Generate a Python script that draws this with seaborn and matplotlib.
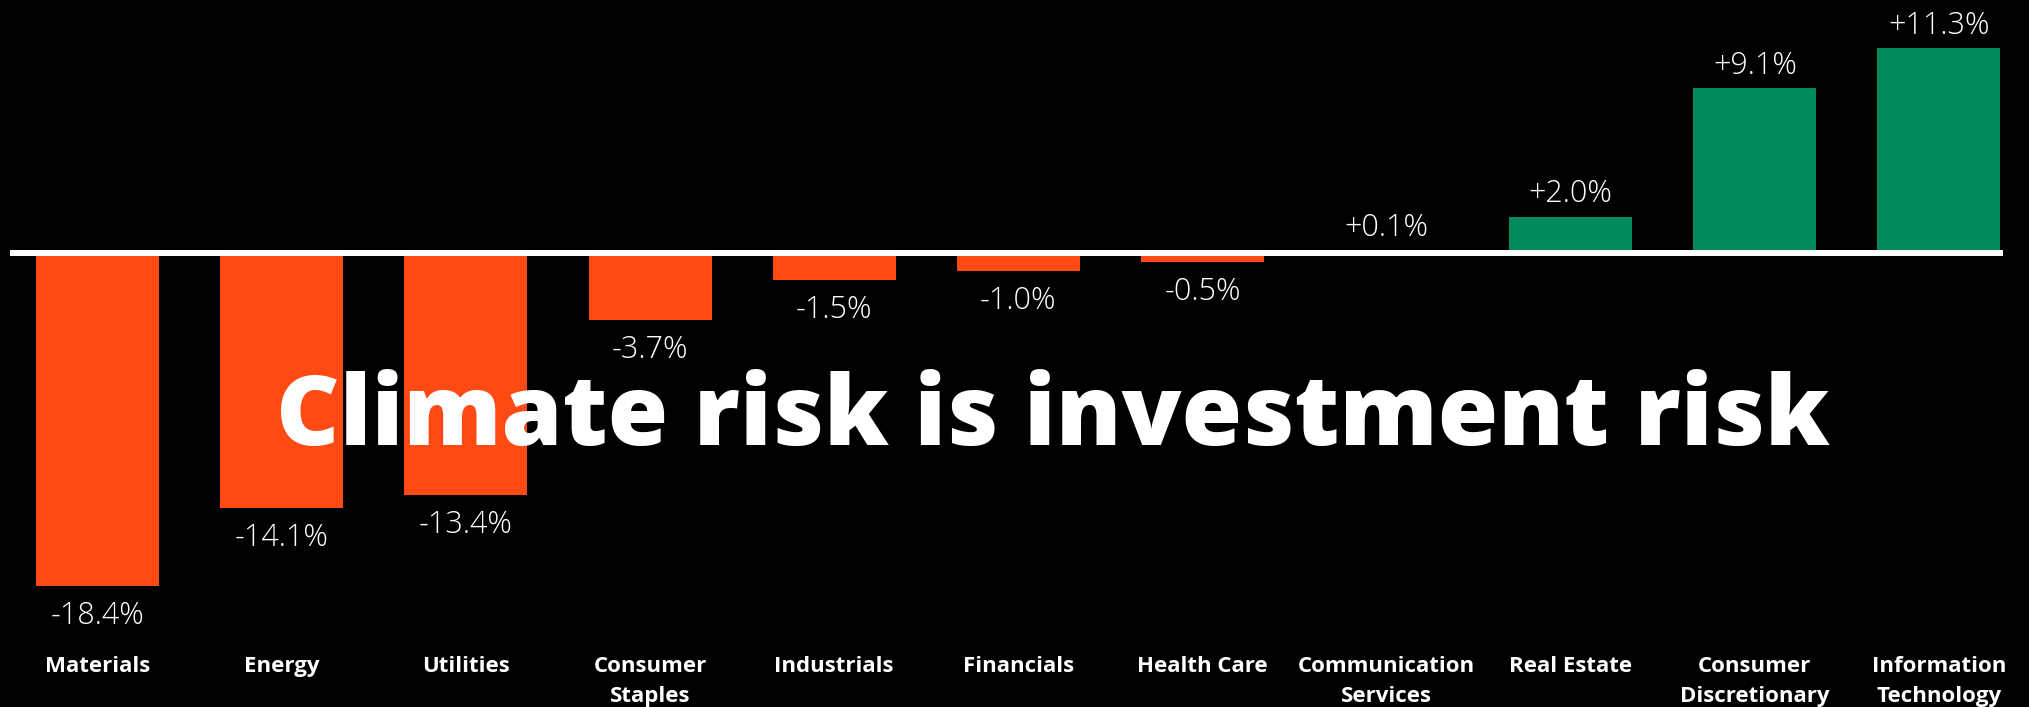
import matplotlib
matplotlib.use("Agg")
import matplotlib.pyplot as plt
import matplotlib.transforms as mtransforms
import seaborn as sns
import pandas as pd

# Sector returns (percent)
sectors = ["Materials", "Energy", "Utilities", "Consumer\nStaples", "Industrials",
           "Financials", "Health Care", "Communication\nServices", "Real Estate",
           "Consumer\nDiscretionary", "Information\nTechnology"]
returns = [-18.4, -14.1, -13.4, -3.7, -1.5, -1.0, -0.5, 0.1, 2.0, 9.1, 11.3]
value_labels = ["-18.4%", "-14.1%", "-13.4%", "-3.7%", "-1.5%", "-1.0%", "-0.5%",
                "+0.1%", "+2.0%", "+9.1%", "+11.3%"]
title = "Climate risk is investment risk"

ORANGE = "#FF4A14"
GREEN = "#008A5E"

sns.set_theme(style="white")
plt.rcParams["font.family"] = ["Open Sans", "DejaVu Sans"]

df = pd.DataFrame({"sector": sectors, "ret": returns})
colors = [GREEN if r > 0 else ORANGE for r in returns]

fig = plt.figure(figsize=(20.29, 7.07), dpi=100, facecolor="black")
ax = fig.add_axes([0, 0, 1, 1])
ax.set_facecolor("black")

sns.barplot(data=df, x="sector", y="ret", hue="sector", palette=colors,
            legend=False, width=0.668, saturation=1, linewidth=0,
            ax=ax, zorder=2)

ax.set_xlim(-0.5306, 10.489)
ax.set_ylim(-25.10, 13.97)
ax.axis("off")

# Zero baseline across the chart
ax.plot([-0.476, 10.35], [0, 0], color="white", lw=4.3, solid_capstyle="butt", zorder=3)

# Value labels beyond each bar end
for i, (v, lab) in enumerate(zip(returns, value_labels)):
    off = 10.5 if v > 0 else -27.4
    ax.annotate(lab, (i, v), xytext=(0, off), textcoords="offset points",
                ha="center", va="baseline", color="white", fontsize=22,
                fontweight="light", zorder=4)

# Category names below the chart
trans = mtransforms.blended_transform_factory(ax.transData, fig.transFigure)
line_y = [1 - 672 / 707, 1 - 702 / 707]
for i, name in enumerate(sectors):
    for k, part in enumerate(name.split("\n")):
        ax.text(i, line_y[k], part, transform=trans, ha="center", va="baseline",
                color="white", fontsize=16, fontweight="bold", zorder=4)

fig.text(0.519, 1 - 445 / 707, title, ha="center", va="baseline", color="white",
         fontsize=70.7, fontweight="heavy", zorder=5)

fig.savefig("out.png", dpi=100, facecolor="black")
